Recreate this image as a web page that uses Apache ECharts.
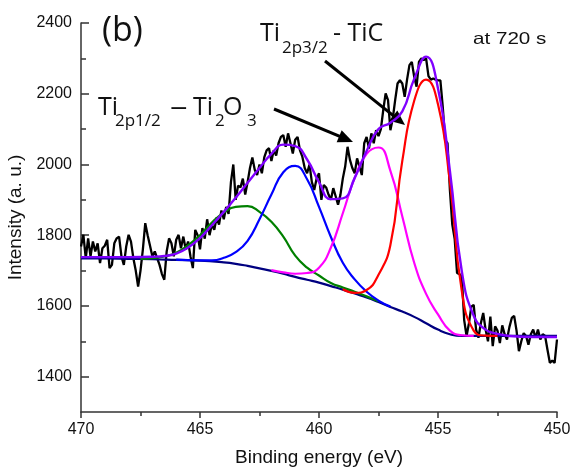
<!DOCTYPE html>
<html>
<head>
<meta charset="utf-8">
<script src="https://cdn.jsdelivr.net/npm/echarts@6/dist/echarts.min.js"></script>
<style>
  html, body { margin: 0; padding: 0; background: #fff; }
  #chart { width: 572px; height: 476px; }
</style>
</head>
<body>
<div id="chart"></div>
<script>
// ---------------- DATA ----------------
// Raw spectrum: binding energy grid 470.0 -> 450.0 eV, 0.1 eV step
const rawStart = 470.0;
const rawStep = 0.1;
const rawIntensity = [
  1768,1801,1735,1791,1740,1782,1754,1777,1721,1763,
  1770,1787,1707,1716,1777,1791,1796,1740,1716,1768,
  1801,1782,1735,1700,1655,1700,1760,1834,1800,1770,
  1740,1754,1735,1716,1690,1674,1754,1791,1777,1740,
  1787,1801,1763,1796,1760,1782,1740,1707,1815,1800,
  1760,1820,1790,1845,1800,1830,1815,1850,1830,1870,
  1845,1880,1860,1950,2000,1900,1940,1935,1960,1915,
  1950,1990,2020,1985,1970,2000,1975,2020,2040,2046,
  2010,2040,2025,2060,2078,2083,2050,2088,2060,2031,
  2070,2078,2040,2022,1990,1975,2000,1950,1928,1960,
  1975,1900,1942,1935,1915,1900,1933,1910,1886,1914,
  1960,1994,2050,2013,1990,1975,2017,1994,1970,2060,
  2078,2045,2088,2060,2097,2080,2100,2154,2201,2182,
  2097,2130,2182,2229,2238,2229,2191,2240,2281,2290,
  2248,2220,2290,2300,2295,2300,2250,2240,2243,2240,
  2238,2238,2163,2069,2060,1928,1830,1790,1693,1690,
  1683,1560,1515,1551,1598,1603,1533,1510,1551,1580,
  1533,1500,1570,1486,1542,1530,1495,1545,1520,1505,
  1540,1566,1572,1530,1472,1500,1523,1515,1490,1520,
  1533,1510,1533,1505,1520,1515,1476,1439,1445,1439,
  1505
];

// Shirley background (navy)
const bgShirley = [
  [470,1734],[469,1734],[468,1733],[467,1732],[466,1730],[465,1728],[464,1723],
  [463.5,1719],[463,1713],[462.5,1706],[462,1699],[461.5,1691],[461,1682],
  [460.5,1674],[460,1666],[459.5,1656],[459,1646],[458.5,1635],[458,1624],
  [457.5,1611],[457,1597],[456.5,1584],[456,1569],[455.5,1551],[455,1533],
  [454.5,1520],[454,1515],[453,1515],[452,1515],[451,1515],[450,1515]
];

// Ti2p1/2 - Ti2O3 component (green)
const fitGreen = [
  [467.5,1733],[467,1735],[466.5,1740],[466,1750],[465.5,1772],[465,1800],
  [464.5,1836],[464,1864],[463.5,1880],[463,1882],[462.5,1866],[462,1838],
  [461.5,1796],[461,1742],[460.5,1708],[460,1686],[459.5,1665],[459,1652],
  [458.5,1640],[458,1627],[457.5,1613]
];

// component (blue)
const fitBlue = [
  [466,1731],[465,1729],[464.5,1729],[464,1736],[463.5,1752],[463,1784],
  [462.5,1845],[462,1915],[461.5,1978],[461,1996],[460.5,1958],[460,1880],
  [459.5,1795],[459,1722],[458.5,1675],[458,1640],[457.5,1615],[457,1598]
];

// component (magenta)
const fitMagenta = [
  [462,1701],[461.5,1695],[461,1691],[460.5,1693],[460,1708],[459.5,1765],
  [459,1862],[458.5,1962],[458,2030],[457.5,2048],[457,1982],[456.5,1853],
  [456,1722],[455.5,1634],[455,1576],[454.5,1530],[454,1517],[453.5,1515]
];

// Ti2p3/2 - TiC component (red)
const fitRed = [
  [459,1647],[458.5,1637],[458,1645],[457.5,1688],[457,1772],
  [456.5,2010],[456,2180],[455.5,2240],[455,2170],
  [454.5,1950],[454,1642],[453.5,1530],[453,1516],[452.5,1515]
];

// Fit envelope (violet)
const fitEnvelope = [
  [470,1738],[468,1738],[467,1739],[466.5,1741],[466,1748],[465.5,1765],
  [465,1792],[464.5,1828],[464,1866],[463.5,1906],[463,1948],[462.5,1990],
  [462,2030],[461.5,2056],[461,2052],[460.5,2014],[460,1950],
  [459.5,1902],[459,1904],[458.5,1962],[458,2038],[457.5,2100],
  [457,2118],[456.5,2150],[456,2242],[455.5,2305],[455,2215],[454.5,1982],
  [454,1698],[453.5,1572],[453,1533],
  [452.5,1521],[452,1515],[451,1512],[450,1512]
];

// Axis ticks / labels
const xMin = 450, xMax = 470, xStep = 5;
const yMin = 1300, yMax = 2400;
const yMajorTicks = [1400, 1600, 1800, 2000, 2200, 2400];
const yMinorTicks = [1500, 1700, 1900, 2100, 2300];

// Text
const xTitle = 'Binding energy (eV)';
const yTitle = 'Intensity (a. u.)';
const panelLabel = '(b)';
const timeLabel = 'at 720 s';

// ---------------- CHART ----------------
const rawData = rawIntensity.map((v, i) => [+(rawStart - i * rawStep).toFixed(1), v]);

const axisFont = '"Liberation Sans", Arial, sans-serif';
const annFont = '"Open Sans", "Liberation Sans", sans-serif';
const axisColor = '#333';

function fitSeries(name, data, color, width) {
  return {
    name, type: 'line', data, showSymbol: false, symbol: 'none',
    smooth: 0.5,
    lineStyle: { color, width }, itemStyle: { color },
    silent: true, animation: false
  };
}

function arrow(x1, y1, x2, y2) {
  const len = Math.hypot(x2 - x1, y2 - y1);
  const ux = (x2 - x1) / len, uy = (y2 - y1) / len;
  const L = 15, W = 6.5;
  const bx = x2 - ux * L, by = y2 - uy * L;
  return [
    { type: 'line', shape: { x1, y1, x2: bx + ux * 2, y2: by + uy * 2 },
      style: { stroke: '#000', lineWidth: 3 }, silent: true },
    { type: 'polygon', shape: { points: [[x2, y2], [bx - uy * W, by + ux * W], [bx + uy * W, by - ux * W]] },
      style: { fill: '#000' }, silent: true }
  ];
}

function txt(text, x, y, size, family, scaleX) {
  return {
    type: 'text', x, y, scaleX: scaleX || 1, silent: true,
    style: { text, fontSize: size, fontFamily: family || annFont, fill: '#111',
             align: 'left', verticalAlign: 'middle' }
  };
}

const chart = echarts.init(document.getElementById('chart'), null, { renderer: 'canvas' });

const option = {
  animation: false,
  backgroundColor: '#fff',
  grid: { left: 81, right: 15, top: 23, bottom: 64, containLabel: false, outerBoundsMode: 'none' },
  xAxis: {
    type: 'value', min: xMin, max: xMax, interval: xStep, inverse: true,
    name: xTitle, nameLocation: 'middle', nameGap: 36,
    nameTextStyle: { fontSize: 19, fontFamily: axisFont, color: '#111' },
    axisLine: { show: true, onZero: false, lineStyle: { color: axisColor, width: 1.5 } },
    axisTick: { show: true, inside: false, length: 6, lineStyle: { color: axisColor, width: 1.5 } },
    minorTick: { show: true, splitNumber: 2, length: 4, lineStyle: { color: axisColor, width: 1.5 } },
    axisLabel: { fontSize: 16, fontFamily: axisFont, color: '#111', margin: 10, showMinLabel: true, showMaxLabel: true,
                 formatter: v => String(v) },
    splitLine: { show: false }, minorSplitLine: { show: false }
  },
  yAxis: [
    {
      type: 'value', min: yMin, max: yMax, interval: 100, position: 'left',
      name: yTitle, nameLocation: 'middle', nameGap: 44,
      nameTextStyle: { fontSize: 19, fontFamily: axisFont, color: '#111' },
      axisLine: { show: true, onZero: false, lineStyle: { color: axisColor, width: 1.5 } },
      axisTick: { show: true, inside: true, length: 8, customValues: yMajorTicks, lineStyle: { color: axisColor, width: 1.5 } },
      axisLabel: { fontSize: 16, fontFamily: axisFont, color: '#111', margin: 9, customValues: yMajorTicks,
                   formatter: v => String(v) },
      splitLine: { show: false }
    },
    {
      type: 'value', min: yMin, max: yMax, interval: 100, position: 'left', offset: 0,
      axisLine: { show: false },
      axisTick: { show: true, inside: true, length: 5, customValues: yMinorTicks, lineStyle: { color: axisColor, width: 1.5 } },
      axisLabel: { show: false },
      splitLine: { show: false }
    }
  ],
  series: [
    { name: 'raw', type: 'line', data: rawData, showSymbol: false, symbol: 'none',
      lineStyle: { color: '#000', width: 2.3 }, itemStyle: { color: '#000' }, silent: true },
    fitSeries('background', bgShirley, '#000080', 2.2),
    fitSeries('green', fitGreen, '#008000', 2.2),
    fitSeries('blue', fitBlue, '#0000ff', 2.2),
    fitSeries('magenta', fitMagenta, '#ff00ff', 2.2),
    fitSeries('red', fitRed, '#ff0000', 2.2),
    fitSeries('envelope', fitEnvelope, '#8000ff', 2.4)
  ],
  graphic: [
    txt(panelLabel, 102, 31, 34),
    txt('Ti', 260, 34, 25),
    txt('2p3/2', 282, 48.5, 17),
    txt('- TiC', 333, 34, 25),
    txt('Ti', 98, 107.5, 25),
    txt('2p1/2', 115, 121, 17),
    txt('\u2013', 170, 107.5, 25, null, 1.4),
    txt('Ti', 193, 107.5, 25),
    txt('2', 215, 121, 17),
    txt('O', 223, 107.5, 25),
    txt('3', 247, 121, 17),
    txt(timeLabel, 473, 39.5, 16.5, axisFont, 1.25),
    ...arrow(274, 109, 353, 142),
    ...arrow(325, 61, 405, 125)
  ]
};

chart.setOption(option);
</script>
</body>
</html>
